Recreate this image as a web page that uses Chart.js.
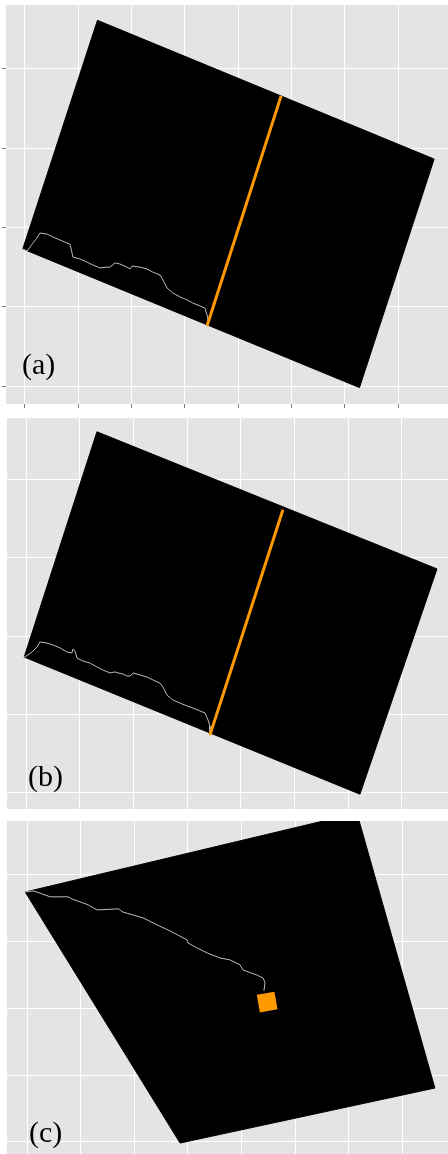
<!DOCTYPE html>
<html>
<head>
<meta charset="utf-8">
<script src="https://cdn.jsdelivr.net/npm/chart.js@4.4.1/dist/chart.umd.min.js"></script>
<style>
  html, body { margin: 0; padding: 0; background: #ffffff; }
  body { position: relative; width: 448px; height: 1154px; overflow: hidden; }
  canvas { position: absolute; left: 0; }
</style>
</head>
<body>
<canvas id="panelA" width="448" height="410" style="top:0px"></canvas>
<canvas id="panelB" width="448" height="391" style="top:418px"></canvas>
<canvas id="panelC" width="448" height="333" style="top:821px"></canvas>
<script>
// Grid positions (data units)
const xTicks = [0, 20, 40, 60, 80, 100, 120, 140];
const yTicksAB = [0, 30, 60, 90, 120];
const yTicksC = [0, 25, 50, 75, 100];

// Visible extent of each panel
const xRangeA = [-7.1, 158.7];
const yRangeA = [-6.8, 144.2];
const xRangeB = [-7.1, 157.2];
const yRangeB = [-6.5, 143.8];
const xRangeC = [-7.5, 157.1];
const yRangeC = [-4.5, 120.2];

// Corners of the dark footprint in each panel
const outlineA = [[-0.8, 51.9], [27.2, 138.4], [153.5, 85.9], [125.5, -0.6]];
const outlineB = [[-0.7, 51.9], [26.4, 138.5], [153.1, 85.8], [124.4, -0.8]];
const outlineC = [[-0.7, 93.6], [123.1, 123.2], [152.2, 20.2], [57.1, -0.4]];

// Traced paths
const trackA = [
  [-0.8, 51.9], [0.8, 51.1], [1.9, 52.6], [3.0, 54.1], [4.5, 56.0], [5.6, 57.9],
  [8.3, 57.5], [10.5, 56.4], [13.1, 55.3], [15.8, 54.1], [16.9, 53.7], [17.6, 50.7],
  [18.0, 48.8], [20.6, 48.1], [23.3, 46.9], [25.5, 45.8], [28.1, 44.7], [30.8, 45.0],
  [31.9, 45.0], [33.8, 46.6], [35.6, 46.2], [38.3, 45.0], [39.4, 44.3], [40.2, 45.4],
  [43.2, 45.0], [45.8, 44.3], [48.0, 43.1], [50.7, 42.0], [51.8, 40.1], [53.3, 37.1],
  [55.5, 35.2], [58.2, 33.7], [60.8, 32.6], [63.0, 31.4], [65.7, 30.3], [67.5, 29.5],
  [68.3, 26.9], [68.7, 25.0], [68.7, 23.5]
];
const trackB = [
  [-0.7, 51.9], [0.7, 52.7], [2.2, 53.8], [4.1, 55.8], [5.2, 57.7], [7.8, 57.3],
  [10.1, 56.5], [12.7, 55.4], [15.3, 53.8], [17.1, 53.5], [17.5, 55.0], [18.2, 54.2],
  [19.0, 51.5], [21.2, 50.4], [23.8, 49.6], [26.4, 48.1], [28.7, 46.9], [31.3, 45.8],
  [33.1, 46.2], [34.3, 45.8], [36.1, 45.4], [37.6, 44.6], [38.7, 44.6], [39.9, 45.8],
  [42.5, 45.0], [45.1, 44.2], [47.3, 43.1], [49.9, 41.9], [51.0, 40.4], [52.5, 37.3],
  [54.7, 35.4], [57.4, 34.2], [60.0, 33.1], [62.2, 32.3], [64.8, 31.2], [66.7, 30.4],
  [67.8, 27.7], [68.5, 25.4], [68.5, 23.1]
];
const trackC = [
  [-0.7, 93.6], [2.2, 94.0], [3.7, 93.6], [8.6, 91.8], [15.3, 91.8], [16.8, 91.0],
  [22.8, 88.8], [26.1, 86.9], [34.0, 87.3], [35.8, 86.1], [39.6, 85.0], [43.3, 83.9],
  [48.5, 81.3], [53.4, 79.0], [59.7, 75.7], [60.1, 74.5], [63.4, 72.7], [67.2, 70.8],
  [72.0, 68.9], [75.7, 68.2], [79.5, 66.3], [80.6, 64.4], [85.8, 62.5], [88.1, 61.4],
  [88.8, 59.6], [88.4, 56.6]
];

// Highlighted section lines and the end marker
const sectionA = [[68.3, 22.7], [96.1, 109.8]];
const sectionB = [[68.5, 21.9], [95.7, 108.5]];
const endMarkerC = [[89.6, 52.4]];

const panelLabels = ['(a)', '(b)', '(c)'];

const ORANGE = '#FF9900';
const toXY = pts => pts.map(([x, y]) => ({ x, y }));
const closed = pts => toXY([...pts, pts[0]]);

// Grey panel background and the corner letter
const panelDecor = {
  id: 'panelDecor',
  beforeDraw(chart, args, opts) {
    const { ctx, chartArea: a } = chart;
    ctx.save();
    ctx.fillStyle = opts.background;
    ctx.fillRect(a.left, a.top, a.right - a.left, a.bottom - a.top);
    ctx.restore();
  },
  afterDraw(chart, args, opts) {
    const { ctx, chartArea: a } = chart;
    ctx.save();
    ctx.font = '30px "Liberation Serif", "Times New Roman", serif';
    ctx.fillStyle = '#000000';
    ctx.textBaseline = 'alphabetic';
    ctx.fillText(opts.label, a.left + opts.labelDx, a.bottom - opts.labelDy);
    ctx.restore();
  }
};

function axis(range, ticks, showTicks) {
  return {
    type: 'linear',
    min: range[0],
    max: range[1],
    bounds: 'data',
    afterBuildTicks: scale => { scale.ticks = ticks.map(v => ({ value: v })); },
    ticks: { display: false },
    grid: {
      color: '#FFFFFF',
      lineWidth: 1,
      drawTicks: showTicks,
      tickLength: 4,
      tickColor: '#7a7a7a',
      tickWidth: 1
    },
    border: { display: false }
  };
}

function makePanel(id, p) {
  const datasets = [
    {
      data: closed(p.outline), showLine: true, fill: 'shape',
      backgroundColor: '#000000', borderColor: '#000000', borderWidth: 1,
      pointRadius: 0, tension: 0, order: 3
    },
    {
      data: toXY(p.track), showLine: true, fill: false,
      borderColor: '#BDBDBD', borderWidth: 1, pointRadius: 0, tension: 0, order: 2
    }
  ];
  if (p.section) {
    datasets.push({
      data: toXY(p.section), showLine: true, fill: false,
      borderColor: ORANGE, borderWidth: 3, pointRadius: 0, tension: 0, order: 1
    });
  }
  if (p.marker) {
    datasets.push({
      data: toXY(p.marker), showLine: false,
      pointStyle: 'rect', pointRadius: 12.7, rotation: -10,
      backgroundColor: ORANGE, borderWidth: 0, order: 1
    });
  }
  return new Chart(document.getElementById(id), {
    type: 'scatter',
    data: { datasets },
    options: {
      responsive: false,
      animation: false,
      events: [],
      layout: { padding: p.padding, autoPadding: false },
      plugins: {
        legend: { display: false },
        tooltip: { enabled: false },
        panelDecor: { background: '#E4E4E4', label: p.label, labelDx: p.labelDx, labelDy: p.labelDy }
      },
      scales: {
        x: axis(p.xRange, xTicks, p.showTicks),
        y: axis(p.yRange, p.yTicks, p.showTicks)
      }
    },
    plugins: [panelDecor]
  });
}

makePanel('panelA', {
  outline: outlineA, track: trackA, section: sectionA,
  xRange: xRangeA, yRange: yRangeA, yTicks: yTicksAB, showTicks: true,
  padding: { left: 2, right: 0, top: 5, bottom: 2 },
  label: panelLabels[0], labelDx: 16, labelDy: 30
});
makePanel('panelB', {
  outline: outlineB, track: trackB, section: sectionB,
  xRange: xRangeB, yRange: yRangeB, yTicks: yTicksAB, showTicks: false,
  padding: { left: 7, right: 0, top: 0, bottom: 0 },
  label: panelLabels[1], labelDx: 21, labelDy: 23
});
makePanel('panelC', {
  outline: outlineC, track: trackC, marker: endMarkerC,
  xRange: xRangeC, yRange: yRangeC, yTicks: yTicksC, showTicks: false,
  padding: { left: 7, right: 0, top: 0, bottom: 0 },
  label: panelLabels[2], labelDx: 22, labelDy: 12
});
</script>
</body>
</html>
